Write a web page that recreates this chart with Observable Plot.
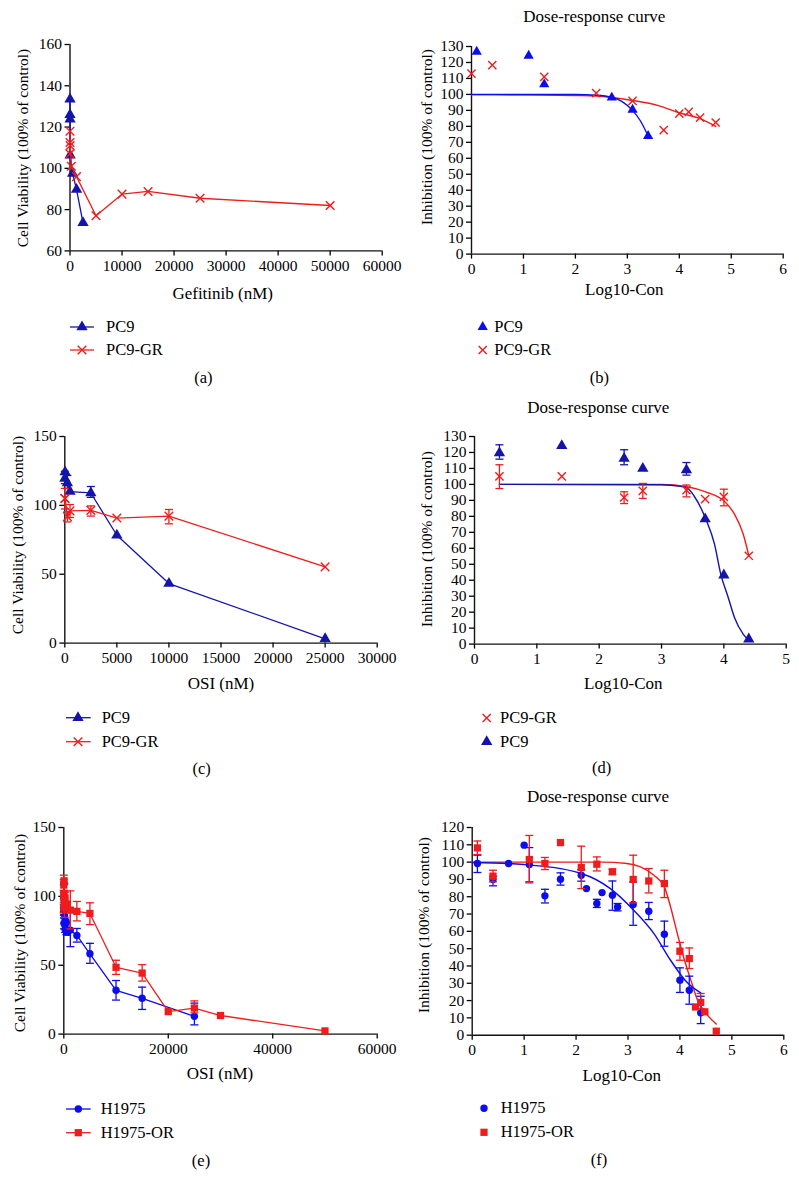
<!DOCTYPE html>
<html>
<head>
<meta charset="utf-8">
<script src="https://cdn.jsdelivr.net/npm/d3@7"></script>
<script src="https://cdn.jsdelivr.net/npm/@observablehq/plot@0.6"></script>
<style>
  body { margin: 0; background: #fff; }
  #fig { position: relative; width: 799px; height: 1193px; overflow: hidden;
         font-family: "Liberation Serif", "Times New Roman", serif; color: #000; }
  .c { position: absolute; white-space: nowrap; transform: translate(-50%, -50%); font-size: 17px; line-height: 1; }
  .l { position: absolute; white-space: nowrap; transform: translate(0, -50%); font-size: 16.5px; line-height: 1; }
  .yl { position: absolute; white-space: nowrap; transform: translate(-50%, -50%) rotate(-90deg); font-size: 15.5px; line-height: 1; }
  .panel { position: absolute; }
  svg.overlay { position: absolute; left: 0; top: 0; pointer-events: none; }
</style>
</head>
<body>
<div id="fig"></div>
<script>
// ---------------- DATA ----------------
// (a) Gefitinib, cell viability
const aPC9Conc = [0, 1.26, 12.6, 25, 500, 1260, 2500];
const aPC9Viab = [133.5, 126, 123.8, 106.4, 97.5, 89.7, 73.6];
const aGRConc  = [0, 1, 2.5, 25, 250, 1250, 5000, 10000, 15000, 25000, 50000];
const aGRViab  = [107, 112.5, 118, 111, 101, 96, 77, 87.5, 88.8, 85.5, 82];

// (b) Gefitinib, dose-response (log10 concentration)
const bPC9Log = [0.1, 1.1, 1.4, 2.7, 3.1, 3.4];
const bPC9Inh = [126.7, 124.2, 106.4, 98, 90.4, 74];
const bGRLog  = [0, 0.4, 1.4, 2.4, 3.1, 3.7, 4.0, 4.18, 4.4, 4.7];
const bGRInh  = [113, 118.3, 111, 100.8, 96, 77.6, 88, 89.1, 85.5, 82.4];
const bPC9FitLog = [0, 1, 2, 2.4, 2.7, 2.9, 3.1, 3.25, 3.4];
const bPC9FitInh = [100, 100, 99.9, 99.5, 98.2, 95.5, 90, 83.5, 74];
const bGRFitLog  = [0, 1, 2, 2.4, 3.1, 3.6, 4.0, 4.4, 4.7];
const bGRFitInh  = [99.8, 99.6, 99.3, 99, 96.2, 93, 88.5, 84.8, 80];

// (c) OSI, cell viability
const cPC9Conc = [2.5, 25, 250, 500, 2500, 5000, 10000, 25000];
const cPC9Viab = [119.6, 124.2, 116.2, 110, 109, 78.3, 43.2, 3.1];
const cPC9Hi   = [124.8, null, 121.7, null, 113.7, null, null, null];
const cPC9Lo   = [115.8, null, 112.3, null, 105.8, null, null, null];
const cGRConc  = [2.5, 25, 250, 500, 2500, 5000, 10000, 25000];
const cGRViab  = [105, 105, 91.8, 96, 96.4, 90.8, 92.2, 55.3];
const cGRHi    = [112.3, null, 95.4, 100.6, 99.6, null, 97, null];
const cGRLo    = [97.4, null, 88, 91.2, 92.2, null, 86.6, null];

// (d) OSI, dose-response
const dPC9Log = [0.4, 1.4, 2.4, 2.7, 3.4, 3.7, 4.0, 4.4];
const dPC9Inh = [119.6, 124.2, 116.2, 110, 109, 78.3, 43.2, 3.1];
const dPC9Hi  = [124.8, null, 121.7, null, 113.7, null, null, null];
const dPC9Lo  = [115.8, null, 112.3, null, 105.8, null, null, null];
const dGRLog  = [0.4, 1.4, 2.4, 2.7, 3.4, 3.7, 4.0, 4.4];
const dGRInh  = [105, 105, 91.8, 96, 96.4, 90.8, 92.2, 55.3];
const dGRHi   = [112.3, null, 95.4, 100.6, 99.6, null, 97, null];
const dGRLo   = [97.4, null, 88, 91.2, 92.2, null, 86.6, null];
const dPC9FitLog = [0.4, 3.0, 3.3, 3.41, 3.52, 3.71, 3.85, 3.95, 4.07, 4.17, 4.31, 4.4];
const dPC9FitInh = [100, 99.8, 98.8, 97.8, 92.9, 78.3, 62.6, 43.8, 29.2, 16.7, 6.3, 2.4];
const dGRFitLog  = [0.4, 3.0, 3.41, 3.73, 4.0, 4.17, 4.31, 4.4];
const dGRFitInh  = [100, 99.9, 98.5, 95, 89.7, 81.4, 68.9, 55.3];

// (e) OSI, H1975 cell viability
const eH1975Conc = [1.25, 2.5, 5, 10, 12.5, 25, 50, 125, 160, 250, 320, 500, 630, 1250, 2500, 5000, 10000, 15000, 25000];
const eORConc    = [1.25, 2.5, 12.5, 25, 50, 125, 250, 500, 1250, 2500, 5000, 10000, 15000, 20000, 25000, 30000, 50000];
// (f) OSI, H1975 dose-response
const fH1975Log = [0.1, 0.4, 0.7, 1.0, 1.1, 1.4, 1.7, 2.1, 2.2, 2.4, 2.5, 2.7, 2.8, 3.1, 3.4, 3.7, 4.0, 4.18, 4.4];
const fORLog    = [0.1, 0.4, 1.1, 1.4, 1.7, 2.1, 2.4, 2.7, 3.1, 3.4, 3.7, 4.0, 4.18, 4.3, 4.4, 4.48, 4.7];
// shared values (e) & (f)
const h1975Val = [99.2, 90, 99.2, 109.8, 98.6, 80.5, 90.1, 92.4, 84.7, 76.1, 82.4, 80.9, 74.1, 75.5, 71.6, 58.3, 31.8, 26, 12.9];
const h1975Hi  = [104, 91.8, null, null, 108.4, 84.3, 93.8, 95.7, null, 78.5, null, 89.1, 76.1, 88.6, 76.7, 65.9, 38.9, 34.1, 22.5];
const h1975Lo  = [94, 86.3, null, null, 88.6, 76.4, 86.7, 89, null, 73.8, null, 72.2, 71.8, 63.5, 66.8, 51.4, 24.7, 17.9, 6.7];
const orVal    = [108.2, 91.9, 101.5, 99.2, 111.3, 96.9, 98.8, 94.4, 90, 89.1, 87.6, 48.5, 44.3, 16.3, 18.9, 13.5, 2.3];
const orHi     = [112.2, 95.3, 115.4, 102.7, null, 109.2, 103, 95.9, 104, 96.3, 95.3, 53.6, 50.4, null, 24.1, null, null];
const orLo     = [104.4, 88.6, 88, 95.7, null, 84.7, 94.9, 92.9, 76.4, 82.2, 79.5, 43.3, 38.5, null, 15.4, null, null];
const fH1975FitLog = [0, 1.0, 2.1, 2.66, 3.11, 3.5, 3.82, 4.14, 4.4];
const fH1975FitVal = [99.8, 98.6, 93.4, 84.7, 72.2, 58.7, 43.3, 30.4, 24.4];
const fORFitLog = [0, 2.5, 2.98, 3.24, 3.5, 3.7, 3.82, 3.95, 4.07, 4.21, 4.34, 4.53, 4.7];
const fORFitVal = [100, 100, 99.2, 97.2, 92.4, 85.7, 74.1, 58.7, 45.2, 31.8, 20.2, 11.6, 6.4];

// tick values
const ticksA_x = [0, 10000, 20000, 30000, 40000, 50000, 60000];
const ticksA_y = [60, 80, 100, 120, 140, 160];
const ticksB_x = [0, 1, 2, 3, 4, 5, 6];
const ticksB_y = [0, 10, 20, 30, 40, 50, 60, 70, 80, 90, 100, 110, 120, 130];
const ticksC_x = [0, 5000, 10000, 15000, 20000, 25000, 30000];
const ticksC_y = [0, 50, 100, 150];
const ticksD_x = [0, 1, 2, 3, 4, 5];
const ticksD_y = [0, 10, 20, 30, 40, 50, 60, 70, 80, 90, 100, 110, 120, 130];
const ticksE_x = [0, 20000, 40000, 60000];
const ticksE_y = [0, 50, 100, 150];
const ticksF_x = [0, 1, 2, 3, 4, 5, 6];
const ticksF_y = [0, 10, 20, 30, 40, 50, 60, 70, 80, 90, 100, 110, 120];

// ---------------- STYLE ----------------
const RED = "#ee1d1d";
const BLUE_D = "#1414aa";
const BLUE_B = "#0c0cee";
const FONT = '"Liberation Serif", "Times New Roman", serif';

const fig = document.getElementById("fig");
const rows = (xs, ys, hi, lo) => xs.map((x, i) => ({x, y: ys[i], hi: hi ? hi[i] : null, lo: lo ? lo[i] : null}));
const capSymbol = { draw(ctx, size) { const w = Math.sqrt(size / Math.PI); ctx.moveTo(-w, 0); ctx.lineTo(w, 0); } };

function errMarks(data, color) {
  const e = data.filter(d => d.hi != null);
  return [
    Plot.ruleX(e, {x: "x", y1: "lo", y2: "hi", stroke: color, strokeWidth: 1.3}),
    Plot.dot(e, {x: "x", y: "hi", symbol: capSymbol, r: 4, stroke: color, fill: "none", strokeWidth: 1.3}),
    Plot.dot(e, {x: "x", y: "lo", symbol: capSymbol, r: 4, stroke: color, fill: "none", strokeWidth: 1.3})
  ];
}

function panel({left, width, frame, xDomain, yDomain, xTicks, yTicks, marks}) {
  const [fx0, fx1, fy0, fy1] = frame;
  const padTop = 14, padBottom = 34;
  const top = fy0 - padTop;
  const height = (fy1 - fy0) + padTop + padBottom;
  const fmt = d3.format("d");
  const chart = Plot.plot({
    width, height,
    marginLeft: fx0 - left, marginRight: left + width - fx1,
    marginTop: padTop, marginBottom: padBottom,
    x: {domain: xDomain}, y: {domain: yDomain},
    style: {fontFamily: FONT, fontSize: "15.5px", color: "#000", background: "transparent", overflow: "visible"},
    marks: [
      Plot.axisX({ticks: xTicks, tickFormat: fmt, tickSize: 5, tickPadding: 4, label: null, strokeWidth: 1.3}),
      Plot.axisY({ticks: yTicks, tickFormat: fmt, tickSize: 5, tickPadding: 3, label: null, strokeWidth: 1.3}),
      Plot.ruleX([xDomain[0]], {stroke: "#111", strokeWidth: 1.4}),
      Plot.ruleY([yDomain[0]], {stroke: "#111", strokeWidth: 1.4}),
      ...marks
    ]
  });
  chart.classList.add("panel");
  chart.style.left = left + "px";
  chart.style.top = top + "px";
  fig.appendChild(chart);
}

function text(cls, x, y, s, size) {
  const d = document.createElement("div");
  d.className = cls; d.textContent = s;
  d.style.left = x + "px"; d.style.top = y + "px";
  if (size) d.style.fontSize = size + "px";
  fig.appendChild(d);
}

// ---------------- PANELS ----------------
// (a)
{
  const pc9 = rows(aPC9Conc, aPC9Viab), gr = rows(aGRConc, aGRViab);
  panel({left: 0, width: 400, frame: [69.5, 381.7, 44.3, 250.7], xDomain: [0, 60000], yDomain: [60, 160],
    xTicks: ticksA_x, yTicks: ticksA_y, marks: [
      Plot.line(pc9, {x: "x", y: "y", stroke: BLUE_D, strokeWidth: 1.3}),
      Plot.dot(pc9, {x: "x", y: "y", symbol: "triangle", r: 4.2, fill: BLUE_D}),
      Plot.line(gr, {x: "x", y: "y", stroke: RED, strokeWidth: 1.3}),
      Plot.dot(gr, {x: "x", y: "y", symbol: "times", r: 4, stroke: RED, strokeWidth: 1.4})
    ]});
}
// (b)
{
  const pc9 = rows(bPC9Log, bPC9Inh), gr = rows(bGRLog, bGRInh);
  panel({left: 400, width: 399, frame: [471, 782.7, 45.7, 253.3], xDomain: [0, 6], yDomain: [0, 130],
    xTicks: ticksB_x, yTicks: ticksB_y, marks: [
      Plot.line(rows(bGRFitLog, bGRFitInh), {x: "x", y: "y", stroke: RED, strokeWidth: 1.4, curve: "monotone-x"}),
      Plot.line(rows(bPC9FitLog, bPC9FitInh), {x: "x", y: "y", stroke: BLUE_B, strokeWidth: 1.4, curve: "monotone-x"}),
      Plot.dot(pc9, {x: "x", y: "y", symbol: "triangle", r: 3.8, fill: BLUE_B}),
      Plot.dot(gr, {x: "x", y: "y", symbol: "times", r: 3.8, stroke: RED, strokeWidth: 1.4})
    ]});
}
// (c)
{
  const pc9 = rows(cPC9Conc, cPC9Viab, cPC9Hi, cPC9Lo), gr = rows(cGRConc, cGRViab, cGRHi, cGRLo);
  panel({left: 0, width: 400, frame: [64.3, 376.7, 435.7, 642.3], xDomain: [0, 30000], yDomain: [0, 150],
    xTicks: ticksC_x, yTicks: ticksC_y, marks: [
      ...errMarks(pc9, BLUE_D),
      Plot.line(pc9, {x: "x", y: "y", stroke: BLUE_D, strokeWidth: 1.3}),
      Plot.dot(pc9, {x: "x", y: "y", symbol: "triangle", r: 4.2, fill: BLUE_D}),
      ...errMarks(gr, RED),
      Plot.line(gr, {x: "x", y: "y", stroke: RED, strokeWidth: 1.3}),
      Plot.dot(gr, {x: "x", y: "y", symbol: "times", r: 4, stroke: RED, strokeWidth: 1.4})
    ]});
}
// (d)
{
  const pc9 = rows(dPC9Log, dPC9Inh, dPC9Hi, dPC9Lo), gr = rows(dGRLog, dGRInh, dGRHi, dGRLo);
  panel({left: 400, width: 399, frame: [474, 785.7, 435.7, 643.3], xDomain: [0, 5], yDomain: [0, 130],
    xTicks: ticksD_x, yTicks: ticksD_y, marks: [
      Plot.line(rows(dGRFitLog, dGRFitInh), {x: "x", y: "y", stroke: RED, strokeWidth: 1.4, curve: "monotone-x"}),
      Plot.line(rows(dPC9FitLog, dPC9FitInh), {x: "x", y: "y", stroke: BLUE_D, strokeWidth: 1.4, curve: "monotone-x"}),
      ...errMarks(pc9, BLUE_D),
      Plot.dot(pc9, {x: "x", y: "y", symbol: "triangle", r: 4.2, fill: BLUE_D}),
      ...errMarks(gr, RED),
      Plot.dot(gr, {x: "x", y: "y", symbol: "times", r: 3.8, stroke: RED, strokeWidth: 1.4})
    ]});
}
// (e)
{
  const h = rows(eH1975Conc, h1975Val, h1975Hi, h1975Lo), o = rows(eORConc, orVal, orHi, orLo);
  panel({left: 0, width: 400, frame: [63.3, 376.7, 826.7, 1033.3], xDomain: [0, 60000], yDomain: [0, 150],
    xTicks: ticksE_x, yTicks: ticksE_y, marks: [
      ...errMarks(h, BLUE_B),
      Plot.line(h, {x: "x", y: "y", stroke: BLUE_B, strokeWidth: 1.3}),
      Plot.dot(h, {x: "x", y: "y", r: 3.7, fill: BLUE_B}),
      ...errMarks(o, RED),
      Plot.line(o, {x: "x", y: "y", stroke: RED, strokeWidth: 1.3}),
      Plot.dot(o, {x: "x", y: "y", symbol: "square", r: 4.1, fill: RED})
    ]});
}
// (f)
{
  const h = rows(fH1975Log, h1975Val, h1975Hi, h1975Lo), o = rows(fORLog, orVal, orHi, orLo);
  panel({left: 400, width: 399, frame: [471.7, 783.3, 827.3, 1035], xDomain: [0, 6], yDomain: [0, 120],
    xTicks: ticksF_x, yTicks: ticksF_y, marks: [
      Plot.line(rows(fORFitLog, fORFitVal), {x: "x", y: "y", stroke: RED, strokeWidth: 1.4, curve: "monotone-x"}),
      Plot.line(rows(fH1975FitLog, fH1975FitVal), {x: "x", y: "y", stroke: BLUE_B, strokeWidth: 1.4, curve: "monotone-x"}),
      ...errMarks(h, BLUE_B),
      Plot.dot(h, {x: "x", y: "y", r: 3.7, fill: BLUE_B}),
      ...errMarks(o, RED),
      Plot.dot(o, {x: "x", y: "y", symbol: "square", r: 4.1, fill: RED})
    ]});
}

// ---------------- TEXT ----------------
const CV = "Cell Viability (100% of control)";
const IN = "Inhibition (100% of control)";
text("c", 594.3, 16, "Dose-response curve", 17);
text("c", 598.3, 406.7, "Dose-response curve", 17);
text("c", 598, 796, "Dose-response curve", 17);

text("c", 222.7, 293, "Gefitinib (nM)");
text("c", 624.3, 289, "Log10-Con");
text("c", 221, 682.7, "OSI (nM)");
text("c", 623.3, 683, "Log10-Con");
text("c", 220, 1073, "OSI (nM)");
text("c", 621.7, 1075, "Log10-Con");

text("yl", 22.7, 147.5, CV);
text("yl", 426.7, 136.7, IN);
text("yl", 18.3, 534.5, CV);
text("yl", 426.7, 538.8, IN);
text("yl", 20, 933.3, CV);
text("yl", 424, 925.3, IN);

text("c", 203.3, 378, "(a)", 16.5);
text("c", 599.3, 378, "(b)", 16.5);
text("c", 201.7, 769.3, "(c)", 16.5);
text("c", 601.7, 768, "(d)", 16.5);
text("c", 201, 1160.7, "(e)", 16.5);
text("c", 599, 1160, "(f)", 16.5);

// ---------------- LEGENDS ----------------
const legends = [
  {label: "PC9", y: 327, sx: 82, tx: 106, line: [70, 94], sym: "triangle", color: BLUE_D, r: 4.2},
  {label: "PC9-GR", y: 350, sx: 82, tx: 106, line: [70, 94], sym: "times", color: RED, r: 4},
  {label: "PC9", y: 327, sx: 482.7, tx: 494.3, sym: "triangle", color: BLUE_B, r: 3.8},
  {label: "PC9-GR", y: 350, sx: 482.7, tx: 494.3, sym: "times", color: RED, r: 3.8},
  {label: "PC9", y: 717.7, sx: 78, tx: 101.7, line: [66, 90.7], sym: "triangle", color: BLUE_D, r: 4.2},
  {label: "PC9-GR", y: 741.7, sx: 78, tx: 101.7, line: [66, 90.7], sym: "times", color: RED, r: 4},
  {label: "PC9-GR", y: 718, sx: 486.7, tx: 500, sym: "times", color: RED, r: 3.8},
  {label: "PC9", y: 741.7, sx: 486.7, tx: 500, sym: "triangle", color: BLUE_D, r: 4.2},
  {label: "H1975", y: 1109, sx: 78.3, tx: 100.7, line: [66, 90.7], sym: "circle", color: BLUE_B, r: 3.7},
  {label: "H1975-OR", y: 1132.7, sx: 78.3, tx: 100.7, line: [66, 90.7], sym: "square", color: RED, r: 4.1},
  {label: "H1975", y: 1108.3, sx: 484, tx: 500.7, sym: "circle", color: BLUE_B, r: 3.7},
  {label: "H1975-OR", y: 1132.3, sx: 484, tx: 500.7, sym: "square", color: RED, r: 4.1}
];
const symTypes = {triangle: d3.symbolTriangle, times: d3.symbolTimes, circle: d3.symbolCircle, square: d3.symbolSquare};
const ov = d3.select(fig).append("svg").attr("class", "overlay").attr("width", 799).attr("height", 1193);
for (const L of legends) {
  if (L.line) ov.append("line").attr("x1", L.line[0]).attr("x2", L.line[1]).attr("y1", L.y).attr("y2", L.y)
    .attr("stroke", L.color).attr("stroke-width", 1.3);
  const p = d3.symbol(symTypes[L.sym], Math.PI * L.r * L.r)();
  const g = ov.append("path").attr("d", p).attr("transform", `translate(${L.sx},${L.y})`);
  if (L.sym === "times") g.attr("fill", "none").attr("stroke", L.color).attr("stroke-width", 1.4);
  else g.attr("fill", L.color);
  text("l", L.tx, L.y, L.label);
}
</script>
</body>
</html>
